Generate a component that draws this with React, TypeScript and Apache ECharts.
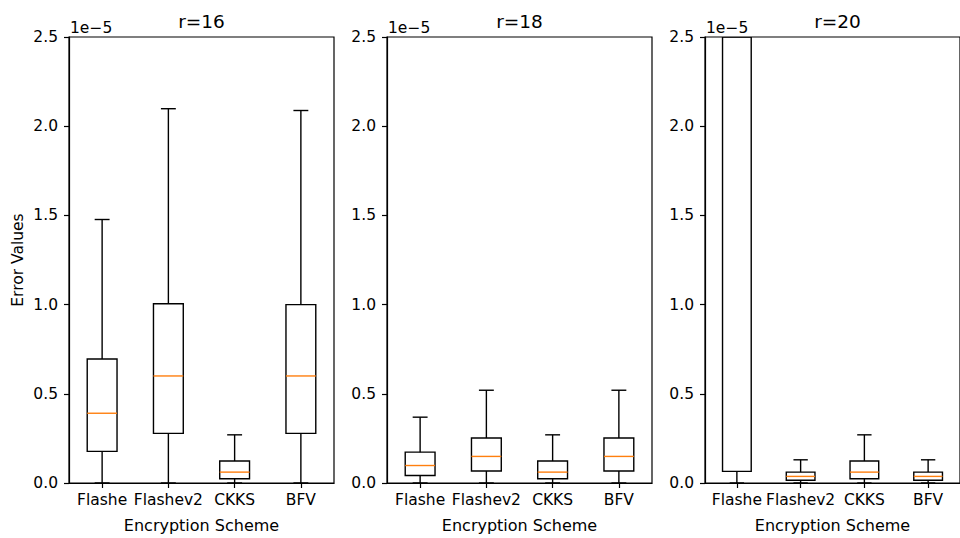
import React, { useEffect, useRef } from "react";
import * as echarts from "echarts";

// Values in units of 1e-5: [whiskerLow, q1, median, q3, whiskerHigh]
const CATEGORIES = ["Flashe", "Flashev2", "CKKS", "BFV"];
const TITLES = ["r=16", "r=18", "r=20"];
const Y_TICKS = [0, 0.5, 1.0, 1.5, 2.0, 2.5];

const R16_FLASHE = [0, 0.177, 0.391, 0.695, 1.477];
const R16_FLASHEV2 = [0, 0.278, 0.6, 1.005, 2.098];
const R16_CKKS = [0, 0.024, 0.061, 0.123, 0.27];
const R16_BFV = [0, 0.278, 0.6, 1.0, 2.088];

const R18_FLASHE = [0, 0.042, 0.098, 0.173, 0.369];
const R18_FLASHEV2 = [0, 0.067, 0.149, 0.252, 0.52];
const R18_CKKS = [0, 0.024, 0.061, 0.123, 0.27];
const R18_BFV = [0, 0.067, 0.149, 0.252, 0.52];

const R20_FLASHE = [0, 0.065, 6.0, 12.0, 30.0];
const R20_FLASHEV2 = [0, 0.015, 0.037, 0.061, 0.13];
const R20_CKKS = [0, 0.024, 0.061, 0.123, 0.27];
const R20_BFV = [0, 0.015, 0.037, 0.061, 0.13];

const PANELS = [
  [R16_FLASHE, R16_FLASHEV2, R16_CKKS, R16_BFV],
  [R18_FLASHE, R18_FLASHEV2, R18_CKKS, R18_BFV],
  [R20_FLASHE, R20_FLASHEV2, R20_CKKS, R20_BFV],
];

const FONT = "DejaVu Sans";
const Y_MIN = 0;
const Y_MAX = 2.5;

export default function App() {
  const ref = useRef<HTMLDivElement>(null);

  useEffect(() => {
    document.body.style.margin = "0";
    if (!ref.current) return;
    const chart = echarts.init(ref.current, null, { renderer: "svg" });

    const gridLefts = [69, 387, 705];
    const gridW = 265;
    const gridTop = 37;
    const gridH = 447;

    const grids = gridLefts.map((l) => ({
      left: l,
      top: gridTop,
      width: gridW,
      height: gridH,
      show: true,
      borderColor: "#000",
      borderWidth: 1.2,
      backgroundColor: "transparent",
    }));

    const xAxes = gridLefts.map((_, i) => ({
      type: "category",
      gridIndex: i,
      data: CATEGORIES,
      boundaryGap: true,
      name: "Encryption Scheme",
      nameLocation: "middle",
      nameGap: 34,
      nameTextStyle: { fontFamily: FONT, fontSize: 16, color: "#000" },
      axisLine: { show: true, lineStyle: { color: "#000", width: 1.2 } },
      axisTick: { show: true, alignWithLabel: true, length: 5, lineStyle: { color: "#000", width: 1.2 } },
      axisLabel: { fontFamily: FONT, fontSize: 15.5, color: "#000", margin: 9, interval: 0 },
      splitLine: { show: false },
    }));

    const yAxes = gridLefts.map((_, i) => ({
      type: "value",
      gridIndex: i,
      min: Y_MIN,
      max: Y_MAX,
      interval: 0.5,
      axisLine: { show: true, lineStyle: { color: "#000", width: 1.2 } },
      axisTick: { show: true, length: 5, lineStyle: { color: "#000", width: 1.2 } },
      axisLabel: {
        fontFamily: FONT,
        fontSize: 15.5,
        color: "#000",
        margin: 11,
        formatter: (v: number) => (Y_TICKS.includes(v) ? v.toFixed(1) : ""),
      },
      splitLine: { show: false },
    }));

    const renderItem = (params: any, api: any) => {
      const idx = api.value(0);
      const lo = api.value(1);
      const q1 = api.value(2);
      const med = api.value(3);
      const q3 = api.value(4);
      const hi = api.value(5);
      const clamp = (v: number) => Math.min(Math.max(v, Y_MIN), Y_MAX);
      const band = api.size([1, 0])[0];
      const boxW = band * 0.45;
      const capW = boxW / 2;
      const cx = api.coord([idx, 0])[0];
      const py = (v: number) => api.coord([idx, clamp(v)])[1];
      const stroke = { stroke: "#000", lineWidth: 1.4, fill: "none" };
      const children: any[] = [];
      if (q1 <= Y_MAX) {
        children.push({
          type: "rect",
          shape: { x: cx - boxW / 2, y: py(q3), width: boxW, height: py(q1) - py(q3) },
          style: { ...stroke },
        });
        children.push({ type: "line", shape: { x1: cx, y1: py(q1), x2: cx, y2: py(lo) }, style: { ...stroke } });
        children.push({
          type: "line",
          shape: { x1: cx - capW / 2, y1: py(lo), x2: cx + capW / 2, y2: py(lo) },
          style: { ...stroke },
        });
      }
      if (q3 < Y_MAX) {
        children.push({ type: "line", shape: { x1: cx, y1: py(q3), x2: cx, y2: py(hi) }, style: { ...stroke } });
        if (hi <= Y_MAX) {
          children.push({
            type: "line",
            shape: { x1: cx - capW / 2, y1: py(hi), x2: cx + capW / 2, y2: py(hi) },
            style: { ...stroke },
          });
        }
      }
      if (med <= Y_MAX) {
        children.push({
          type: "line",
          shape: { x1: cx - boxW / 2, y1: py(med), x2: cx + boxW / 2, y2: py(med) },
          style: { stroke: "#ff7f0e", lineWidth: 1.4 },
        });
      }
      return { type: "group", children };
    };

    const series = PANELS.map((panel, i) => ({
      type: "custom",
      xAxisIndex: i,
      yAxisIndex: i,
      clip: true,
      renderItem,
      encode: { x: 0, y: [1, 2, 3, 4, 5] },
      data: panel.map((vals, ci) => [ci, ...vals]),
    }));

    const graphics: any[] = [];
    gridLefts.forEach((l, i) => {
      graphics.push({
        type: "text",
        x: l + gridW / 2,
        y: 31,
        style: { text: TITLES[i], font: `18.5px "${FONT}"`, fill: "#000", textAlign: "center", textVerticalAlign: "bottom" },
      });
      graphics.push({
        type: "text",
        x: l + 1,
        y: 36,
        style: { text: "1e\u22125", font: `15.5px "${FONT}"`, fill: "#000", textAlign: "left", textVerticalAlign: "bottom" },
      });
    });
    graphics.push({
      type: "text",
      x: 17.5,
      y: 260,
      rotation: Math.PI / 2,
      style: { text: "Error Values", font: `15.5px "${FONT}"`, fill: "#000", textAlign: "center", textVerticalAlign: "middle" },
    });

    chart.setOption({
      animation: false,
      backgroundColor: "#fff",
      grid: grids,
      xAxis: xAxes,
      yAxis: yAxes,
      series,
      graphic: graphics,
    } as any);

    return () => chart.dispose();
  }, []);

  return <div ref={ref} style={{ width: 960, height: 538 }} />;
}
